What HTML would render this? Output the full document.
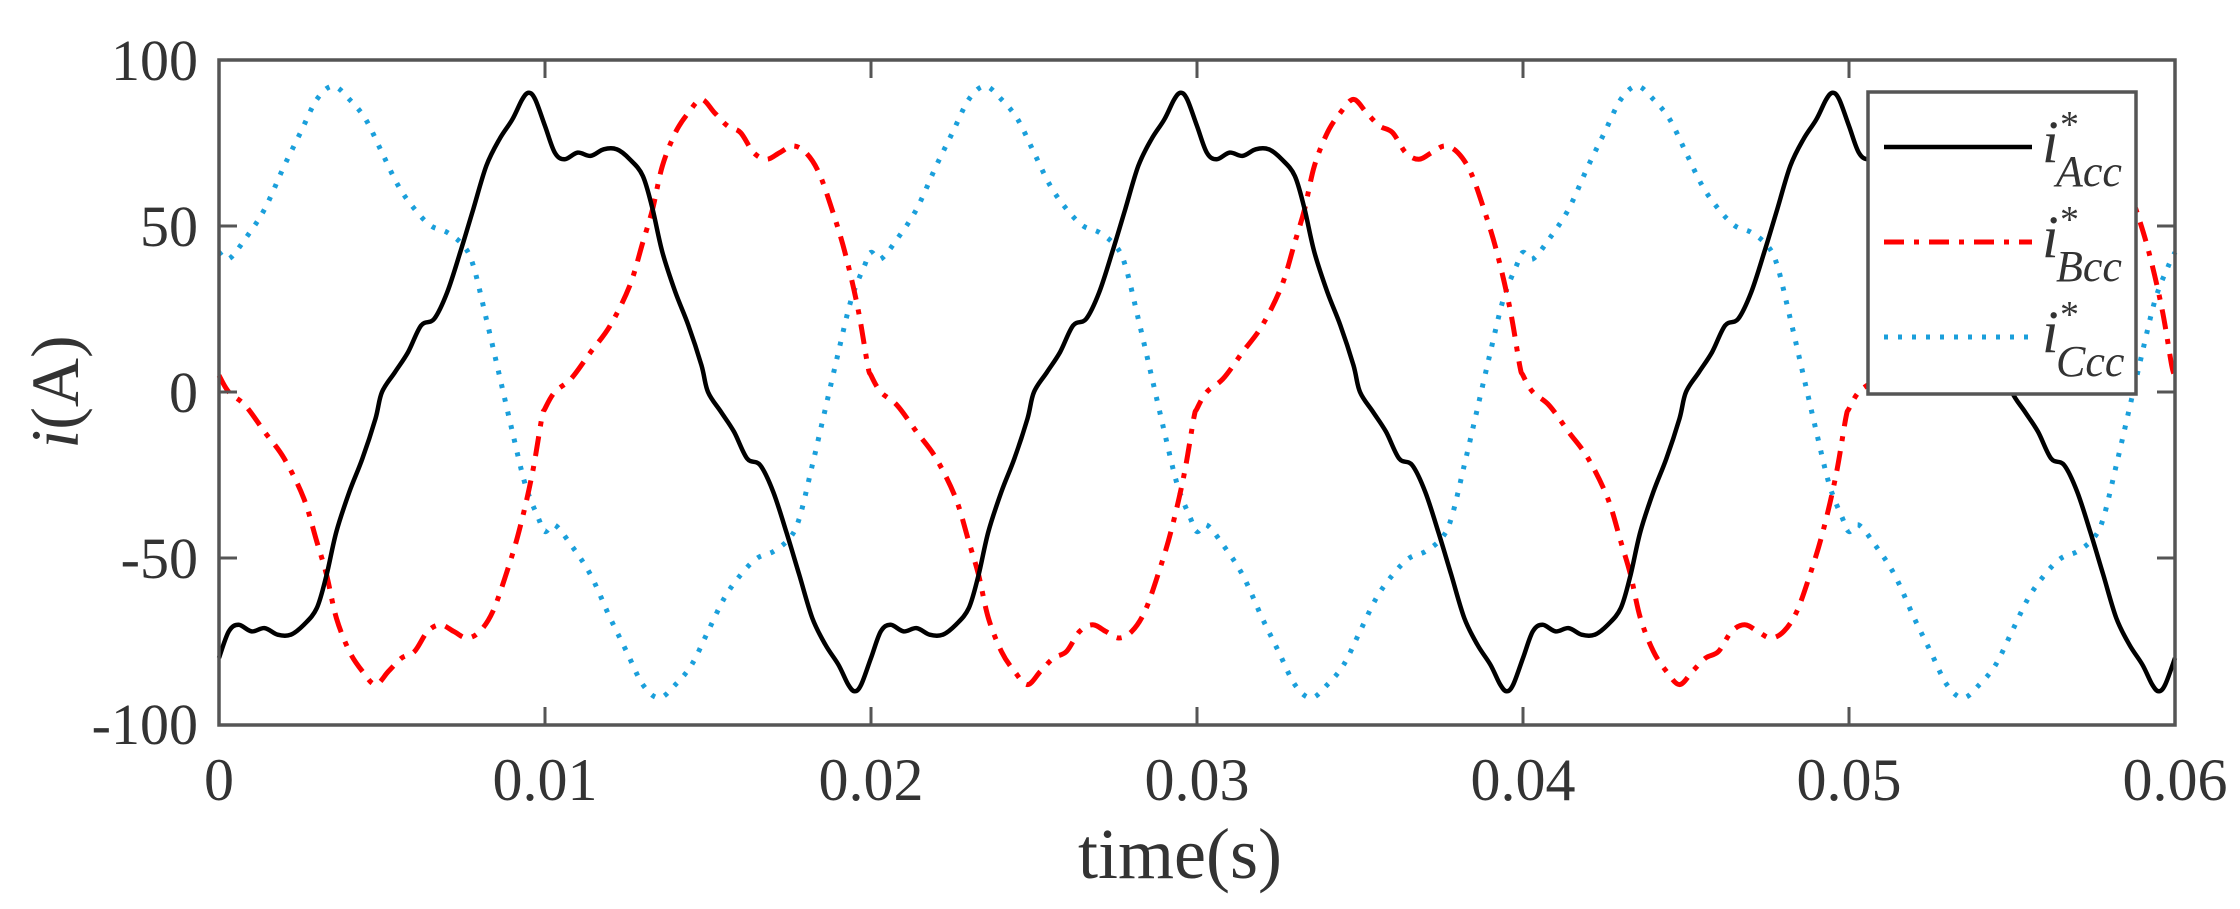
<!DOCTYPE html>
<html><head><meta charset="utf-8"><style>
html,body{margin:0;padding:0;background:#fff;}
svg{display:block;}
text{font-family:"Liberation Serif",serif;fill:#333;}
</style></head><body>
<svg id="s" width="2240" height="909" viewBox="0 0 2240 909" xmlns="http://www.w3.org/2000/svg">
<g id="curves"></g>
<g id="axes" stroke="#555" stroke-width="3.5" fill="none">
<rect x="219" y="60" width="1956" height="665"/>
</g>
<g id="ticks" stroke="#555" stroke-width="3"></g>
<g font-size="58" text-anchor="end">
<text x="198" y="80">100</text>
<text x="198" y="246">50</text>
<text x="198" y="412">0</text>
<text x="198" y="578">-50</text>
<text x="198" y="744">-100</text>
</g>
<g font-size="60" text-anchor="middle">
<text x="219" y="800">0</text>
<text x="545" y="800">0.01</text>
<text x="871" y="800">0.02</text>
<text x="1197" y="800">0.03</text>
<text x="1523" y="800">0.04</text>
<text x="1849" y="800">0.05</text>
<text x="2175" y="800">0.06</text>
<text x="1180" y="878" font-size="72">time(s)</text>
</g>
<text font-size="68" text-anchor="middle" transform="translate(78,392) rotate(-90)"><tspan font-style="italic">i</tspan>(A)</text>
<g>
<rect x="1868" y="92" width="268" height="302" fill="#fff" stroke="#555" stroke-width="3.5"/>
<line x1="1884" y1="147" x2="2032" y2="147" stroke="#000" stroke-width="4.5"/>
<line x1="1884" y1="242" x2="2032" y2="242" stroke="#f00" stroke-width="5" stroke-dasharray="20,10,5,10"/>
<line x1="1884" y1="337" x2="2032" y2="337" stroke="#1a9fdb" stroke-width="5" stroke-dasharray="4,10"/>
<g font-size="60" font-style="italic">
<text x="2042" y="162">i</text><text x="2060" y="137" font-size="38" font-style="normal">*</text><text x="2056" y="186" font-size="44">Acc</text>
<text x="2042" y="257">i</text><text x="2060" y="232" font-size="38" font-style="normal">*</text><text x="2056" y="281" font-size="44">Bcc</text>
<text x="2042" y="352">i</text><text x="2060" y="327" font-size="38" font-style="normal">*</text><text x="2056" y="376" font-size="44">Ccc</text>
</g>
</g>
</svg>
<script>
var NS="http://www.w3.org/2000/svg";
var X0=219,XS=32.6,Y0=392,YS=3.325;
var A=[[0,-80],[0.3,-72],[0.6,-70],[1.0,-72],[1.4,-71],[1.8,-73],[2.2,-73],[2.6,-70],[3.0,-65],[3.3,-55],[3.6,-42],[4.0,-30],[4.4,-20],[4.8,-8],[5.0,0],[5.4,6],[5.8,12],[6.2,20],[6.6,22],[7.0,30],[7.4,42],[7.8,55],[8.2,68],[8.6,76],[9.0,82],[9.3,88],[9.5,90],[9.7,88],[10,80]];
var B=[[0,5],[0.3,0],[0.8,-4],[1.4,-12],[2.0,-20],[2.6,-32],[3.0,-45],[3.3,-55],[3.6,-68],[4.0,-78],[4.4,-84],[4.8,-88],[5.2,-84],[5.6,-80],[6.0,-78],[6.4,-72],[6.8,-70],[7.2,-72],[7.6,-74],[8.0,-72],[8.4,-66],[8.8,-55],[9.2,-42],[9.6,-25],[9.9,-8],[10,-5]];
var C=[[0,42],[0.3,40],[0.8,46],[1.4,55],[2.0,68],[2.5,78],[3.0,88],[3.5,92],[4.0,88],[4.5,82],[5.0,72],[5.5,62],[6.0,55],[6.5,50],[7.0,48],[7.5,44],[7.8,38],[8.2,22],[8.6,5],[9.0,-12],[9.4,-28],[9.8,-38],[10,-42]];
function full(h){var p=[];for(var k=0;k<6;k++){var sg=(k%2)?-1:1;for(var i=(k?1:0);i<h.length;i++)p.push([h[i][0]+10*k,sg*h[i][1]]);}return p;}
function path(pts){var P=pts.map(function(q){return [X0+q[0]*XS,Y0-q[1]*YS];});var d="M"+P[0][0].toFixed(1)+","+P[0][1].toFixed(1);
for(var i=0;i<P.length-1;i++){var p0=P[Math.max(0,i-1)],p1=P[i],p2=P[i+1],p3=P[Math.min(P.length-1,i+2)];
d+=" C"+(p1[0]+(p2[0]-p0[0])/6).toFixed(1)+","+(p1[1]+(p2[1]-p0[1])/6).toFixed(1)+" "+(p2[0]-(p3[0]-p1[0])/6).toFixed(1)+","+(p2[1]-(p3[1]-p1[1])/6).toFixed(1)+" "+p2[0].toFixed(1)+","+p2[1].toFixed(1);}return d;}
var g=document.getElementById("curves");
function add(h,col,w,da){var e=document.createElementNS(NS,"path");e.setAttribute("d",path(full(h)));e.setAttribute("fill","none");e.setAttribute("stroke",col);e.setAttribute("stroke-width",w);if(da)e.setAttribute("stroke-dasharray",da);g.appendChild(e);}
add(C,"#1a9fdb",5,"4,10");
add(B,"#f00",5,"20,10,5,10");
add(A,"#000",4.5);
var t=document.getElementById("ticks");
function ln(a,b,c,d){var e=document.createElementNS(NS,"line");e.setAttribute("x1",a);e.setAttribute("y1",b);e.setAttribute("x2",c);e.setAttribute("y2",d);t.appendChild(e);}
for(var i=1;i<6;i++){var x=X0+326*i;ln(x,725,x,707);ln(x,60,x,78);}
[226,392,558].forEach(function(y){ln(219,y,237,y);ln(2175,y,2157,y);});
</script>
</body></html>
